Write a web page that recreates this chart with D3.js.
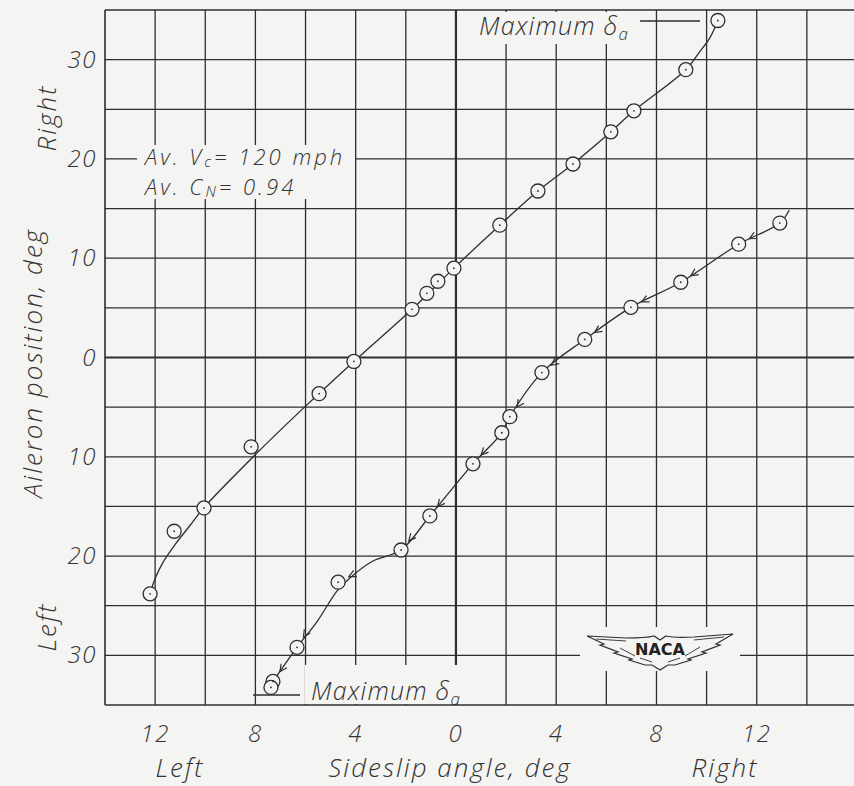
<!DOCTYPE html>
<html>
<head>
<meta charset="utf-8">
<script src="https://cdn.jsdelivr.net/npm/d3@7"></script>
<style>
  html, body { margin: 0; padding: 0; background: #f4f4f2; }
  svg { display: block; }
  .lbl { font-family: "Open Sans", "DejaVu Sans", sans-serif; font-style: italic; font-weight: 300; fill: #333; }
</style>
</head>
<body>
<svg id="chart" width="854" height="786"></svg>
<script>
// ---------------- data ----------------
// Sideslip angle (deg, negative = left), aileron position (deg, negative = left)
const upperBeta  = [-12.2, -11.24, -10.05, -8.17, -5.46, -4.07, -1.75, -1.16, -0.72, -0.08, 1.75, 3.27, 4.67, 6.18, 7.10, 9.17, 10.45];
const upperDelta = [-23.8, -17.5, -15.15, -9.0, -3.64, -0.4, 4.85, 6.46, 7.68, 9.0, 13.33, 16.77, 19.49, 22.73, 24.85, 28.99, 33.94];

const lowerBeta  = [12.92, 11.28, 8.97, 6.98, 5.14, 3.43, 2.15, 1.83, 0.68, -1.04, -2.19, -4.70, -6.34, -7.30, -7.38];
const lowerDelta = [13.54, 11.41, 7.58, 5.05, 1.82, -1.52, -5.96, -7.58, -10.71, -15.96, -19.39, -22.63, -29.19, -32.63, -33.23];

// faired curves as drawn on the reference
const upperFairBeta  = [-12.2, -12.0, -11.64, -11.17, -10.61, -10.05, -7.93, -6.02, -4.07, -1.75, -0.08, 1.75, 3.27, 4.67, 6.18, 7.10, 9.17, 9.73, 10.13, 10.33, 10.45];
const upperFairDelta = [-23.8, -22.26, -20.44, -18.73, -16.92, -15.11, -9.6, -4.95, -0.4, 4.85, 9.0, 13.33, 16.77, 19.49, 22.73, 24.85, 28.99, 30.8, 32.2, 33.2, 33.94];
const lowerFairBeta  = [13.3, 12.92, 11.28, 8.97, 6.98, 5.14, 3.43, 2.15, 1.83, 0.68, -1.04, -2.19, -3.31, -4.23, -4.74, -5.54, -6.34, -7.30];
const lowerFairDelta = [14.85, 13.54, 11.41, 7.58, 5.05, 1.82, -1.52, -5.96, -7.58, -10.71, -15.96, -19.39, -20.5, -22.2, -23.5, -26.6, -29.19, -32.63];

const xTicks = [-12, -8, -4, 0, 4, 8, 12];
const xTickLabels = ["12", "8", "4", "0", "4", "8", "12"];
const yTicks = [30, 20, 10, 0, -10, -20, -30];
const yTickLabels = ["30", "20", "10", "0", "10", "20", "30"];
const xGrid = d3.range(-14, 17, 2);
const yGrid = d3.range(-35, 36, 5);

// ---------------- drawing ----------------
const svg = d3.select("#chart");
const ink = "#2e2e2e";
const paper = "#f4f4f2";
const x = d3.scaleLinear().domain([-14, 16]).range([105, 857]);
const y = d3.scaleLinear().domain([35, -35]).range([10, 705]);
const X0 = x(-14), Y0 = y(35), Y1 = y(-35);

const grid = svg.append("g");
grid.selectAll("line.v").data(xGrid).join("line")
  .attr("x1", d => x(d)).attr("x2", d => x(d))
  .attr("y1", Y0).attr("y2", Y1)
  .attr("stroke", ink).attr("stroke-width", d => d === 0 ? 2.2 : (d === -14 ? 1.6 : 1.3));
grid.selectAll("line.h").data(yGrid).join("line")
  .attr("x1", X0).attr("x2", 854)
  .attr("y1", d => y(d)).attr("y2", d => y(d))
  .attr("stroke", ink).attr("stroke-width", d => d === 0 ? 2.2 : (d === -35 ? 1.6 : 1.3));

// blank paper behind annotations
svg.append("rect").attr("x", 137).attr("y", 145).attr("width", 218).attr("height", 54).attr("fill", paper);
svg.append("rect").attr("x", 470).attr("y", 12).attr("width", 168).attr("height", 32).attr("fill", paper);
svg.append("rect").attr("x", 305).attr("y", 665).attr("width", 160).attr("height", 39).attr("fill", paper);
svg.append("rect").attr("x", 580).attr("y", 627).attr("width", 160).attr("height", 44).attr("fill", paper);

// curves
const line = d3.line().x(d => x(d[0])).y(d => y(d[1])).curve(d3.curveCatmullRom.alpha(0.5));
const upperFair = upperFairBeta.map((b, i) => [b, upperFairDelta[i]]);
const lowerFair = lowerFairBeta.map((b, i) => [b, lowerFairDelta[i]]);
svg.append("path").attr("d", line(upperFair)).attr("fill", "none").attr("stroke", ink).attr("stroke-width", 1.3);
svg.append("path").attr("d", line(lowerFair)).attr("fill", "none").attr("stroke", ink).attr("stroke-width", 1.3);

// direction arrows on the lower curve (travel toward left)
const lowerPts = lowerBeta.map((b, i) => [x(b), y(lowerDelta[i])]);
const arrows = svg.append("g").attr("stroke", ink).attr("stroke-width", 1.2).attr("fill", "none");
for (let i = 1; i < lowerPts.length - 1; i++) {
  const [cx, cy] = lowerPts[i], [px, py] = lowerPts[i - 1];
  let dx = cx - px, dy = cy - py; const L = Math.hypot(dx, dy); dx /= L; dy /= L;
  const tx = cx - dx * 12, ty = cy - dy * 12;
  const ang = Math.atan2(-dy, -dx);
  const b1 = ang + 0.45, b2 = ang - 0.45, len = 8;
  arrows.append("path").attr("d",
    `M${tx + Math.cos(b1) * len},${ty + Math.sin(b1) * len}L${tx},${ty}L${tx + Math.cos(b2) * len},${ty + Math.sin(b2) * len}`);
}

// points
function drawPts(bs, ds) {
  const g = svg.append("g");
  const data = bs.map((b, i) => [b, ds[i]]);
  g.selectAll("circle.o").data(data).join("circle")
    .attr("cx", d => x(d[0])).attr("cy", d => y(d[1])).attr("r", 7)
    .attr("fill", paper).attr("stroke", ink).attr("stroke-width", 1.3);
  g.selectAll("circle.c").data(data).join("circle")
    .attr("cx", d => x(d[0])).attr("cy", d => y(d[1])).attr("r", 0.9).attr("fill", ink);
}
drawPts(upperBeta, upperDelta);
drawPts(lowerBeta, lowerDelta);

// tick labels
svg.selectAll("text.xt").data(xTicks).join("text").attr("class", "lbl")
  .attr("x", d => x(d)).attr("y", 742).attr("text-anchor", "middle")
  .attr("font-size", 24).style("letter-spacing", "1.5px")
  .text((d, i) => xTickLabels[i]);
svg.selectAll("text.yt").data(yTicks).join("text").attr("class", "lbl")
  .attr("x", 97).attr("y", d => y(d) + 8).attr("text-anchor", "end")
  .attr("font-size", 24).style("letter-spacing", "1.5px")
  .text((d, i) => yTickLabels[i]);

// axis titles
function title(tx, ty, rot, str) {
  svg.append("text").attr("class", "lbl")
    .attr("transform", `translate(${tx},${ty})` + (rot ? " rotate(-90)" : ""))
    .attr("text-anchor", "middle").attr("font-size", 26).style("letter-spacing", "2px").text(str);
}
title(180, 777, false, "Left");
title(450, 777, false, "Sideslip angle, deg");
title(725, 777, false, "Right");
title(42, 363, true, "Aileron position, deg");
title(56, 118, true, "Right");
title(56, 627, true, "Left");

// annotation (two lines in one text element)
const ann = svg.append("text").attr("class", "lbl").attr("font-size", 22).style("letter-spacing", "3px");
ann.append("tspan").attr("x", 145).attr("y", 165).text("Av. V");
ann.append("tspan").attr("font-size", 15).attr("dy", 2).text("c");
ann.append("tspan").attr("dy", -2).text("= 120 mph");
ann.append("tspan").attr("x", 145).attr("y", 195).text("Av. C");
ann.append("tspan").attr("font-size", 15).attr("dy", 2).text("N");
ann.append("tspan").attr("dy", -2).text("= 0.94");

// maximum deflection marks
function maxLabel(tx, ty, lx1, lx2, ly) {
  const t = svg.append("text").attr("class", "lbl").attr("x", tx).attr("y", ty)
    .attr("font-size", 25).style("letter-spacing", "1.2px");
  t.append("tspan").text("Maximum δ");
  t.append("tspan").attr("font-size", 17).attr("dy", 5).text("a");
  svg.append("line").attr("x1", lx1).attr("x2", lx2).attr("y1", ly).attr("y2", ly).attr("stroke", ink).attr("stroke-width", 1.3);
}
maxLabel(479, 35, 640, 700, 21);
maxLabel(311, 700, 253, 300, 695);

// NACA logo
const logo = svg.append("g").attr("transform", "translate(660,650)");
logo.append("path").attr("d",
  "M-73,-14 L-34,-12 Q-14,-12 -6,-14 L0,-10 L6,-14 Q14,-12 34,-13 L73,-16 " +
  "L56,-6 L60,-5 L42,2 L46,3 L28,9 L31,10 L15,15 L8,15 L0,20 L-8,15 L-15,15 L-31,10 L-28,9 L-46,3 L-42,2 L-60,-5 L-56,-6 Z")
  .attr("fill", paper).attr("stroke", ink).attr("stroke-width", 1.2);
logo.append("path").attr("d",
  "M-64,-11 L-34,-9 M64,-13 L34,-10 M-40,-2 L-25,6 M40,-3 L25,6 M-20,8 L-8,12 M20,8 L8,12")
  .attr("fill", "none").attr("stroke", ink).attr("stroke-width", 0.9);
logo.append("text").attr("x", 0).attr("y", 5).attr("text-anchor", "middle")
  .attr("font-family", "DejaVu Sans, sans-serif").attr("font-weight", "bold").attr("font-size", 16)
  .attr("fill", "#222").text("NACA");
</script>
</body>
</html>
